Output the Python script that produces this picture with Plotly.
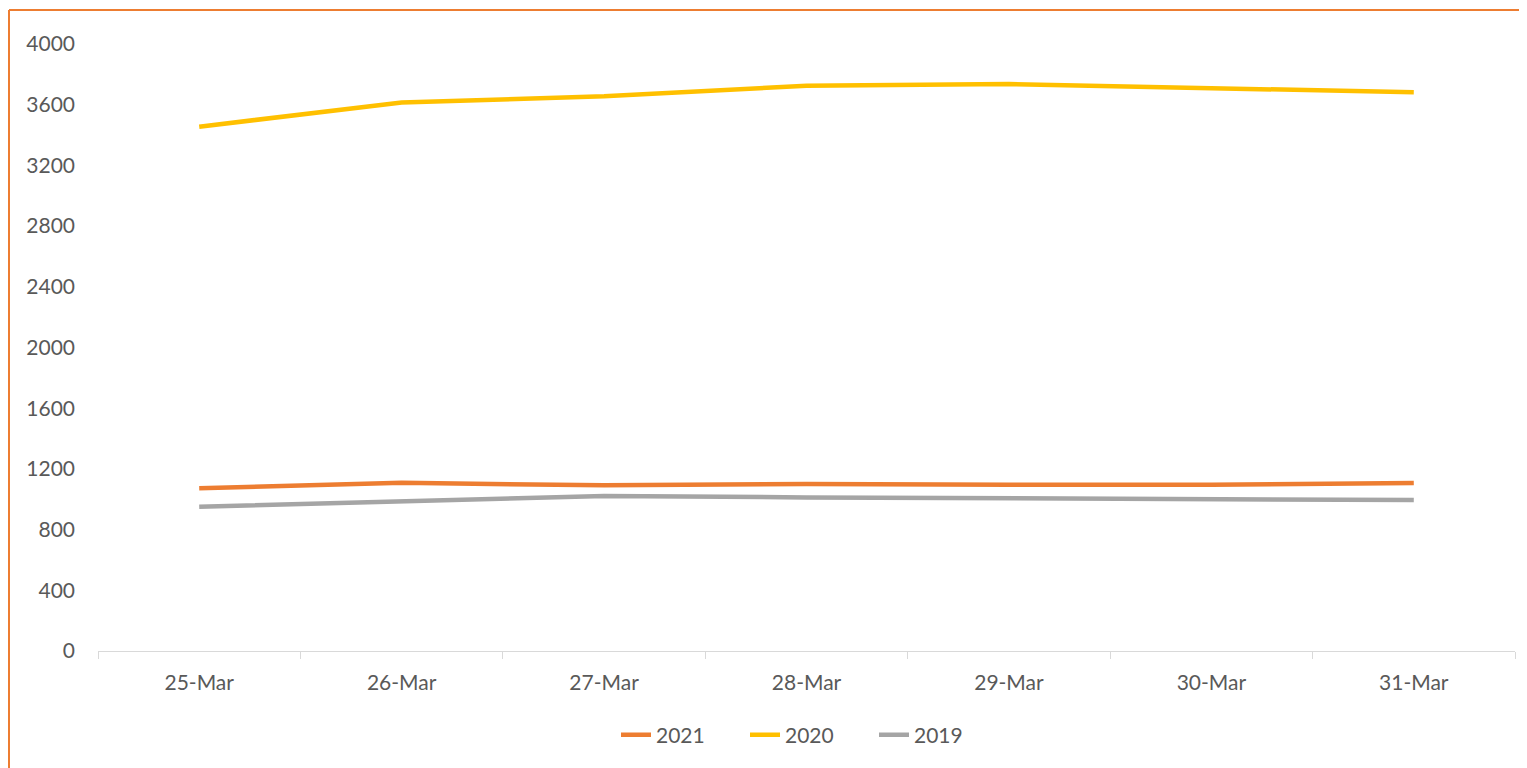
import plotly.graph_objects as go

dates = ["25-Mar", "26-Mar", "27-Mar", "28-Mar", "29-Mar", "30-Mar", "31-Mar"]
y2021 = [1072, 1108, 1092, 1100, 1096, 1096, 1107]
y2020 = [3455, 3615, 3655, 3725, 3736, 3710, 3682]
y2019 = [951, 988, 1022, 1012, 1006, 994, 995]
series_names = ["2021", "2020", "2019"]
series_colors = ["#ED7D31", "#FFC000", "#A5A5A5"]
y_ticks = list(range(0, 4001, 400))

FONT = "Lato"
FS = 21
TXT = "#595959"

fig = go.Figure()
for name, vals, col in zip(series_names, [y2021, y2020, y2019], series_colors):
    fig.add_trace(go.Scatter(x=dates, y=vals, mode="lines", name=name,
                             line=dict(color=col, width=4.5)))

# page body has an 8px margin, so the figure starts at (8, 8)
OFF = 8
W, H = 1527 - OFF, 768 - OFF
L, R, T, B = 98 - OFF, 12, 44 - OFF, 117
pw, ph = W - L - R, H - T - B

def px2paper_x(px):
    return (px - OFF - L) / pw

def px2paper_y(py):
    return 1 - (py - OFF - T) / ph

fig.update_layout(
    width=W, height=H,
    margin=dict(l=L, r=R, t=T, b=B, autoexpand=False),
    paper_bgcolor="white", plot_bgcolor="white",
    font=dict(family=FONT, size=FS, color=TXT),
    showlegend=True,
    legend=dict(orientation="h", x=px2paper_x(616), xanchor="left",
                y=px2paper_y(735), yanchor="middle",
                font=dict(family=FONT, size=FS, color=TXT),
                entrywidth=84, entrywidthmode="pixels",
                bgcolor="rgba(0,0,0,0)"),
    xaxis=dict(type="category", range=[-0.5, len(dates) - 0.5],
               showgrid=False, showline=True, linecolor="#D9D9D9",
               linewidth=1, ticks="outside", tickson="boundaries", ticklen=7,
               tickcolor="#D9D9D9", tickfont=dict(family=FONT, size=FS, color=TXT),
               ticklabelstandoff=13, zeroline=False),
    yaxis=dict(range=[0, 4000], tickvals=y_ticks, showgrid=False, showline=False,
               zeroline=False, ticks="", tickfont=dict(family=FONT, size=FS, color=TXT),
               ticklabelstandoff=22),
    shapes=[
        dict(type="line", xref="paper", yref="paper",
             x0=px2paper_x(9), x1=px2paper_x(9), y0=px2paper_y(10), y1=px2paper_y(780),
             line=dict(color="#ED7D31", width=2)),
        dict(type="line", xref="paper", yref="paper",
             x0=px2paper_x(9), x1=px2paper_x(1540), y0=px2paper_y(10), y1=px2paper_y(10),
             line=dict(color="#ED7D31", width=2)),
    ],
)

fig.write_html("out.html")
